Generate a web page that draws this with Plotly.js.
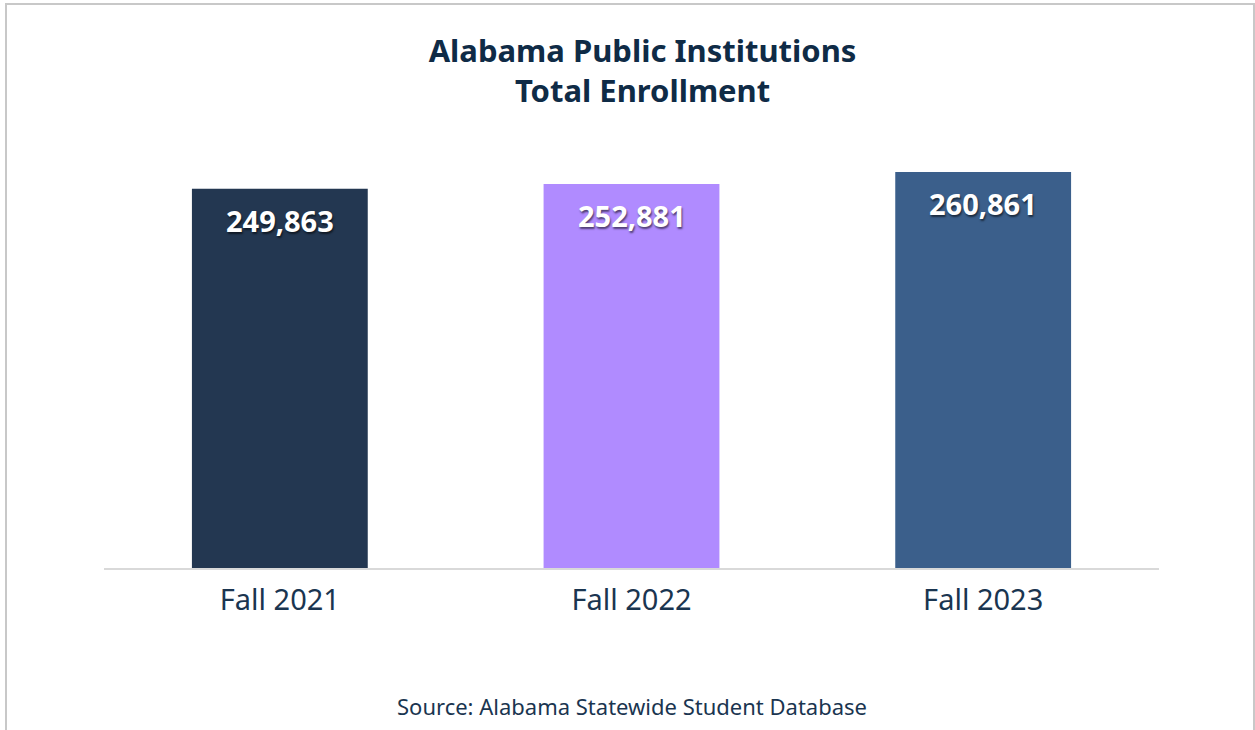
<!DOCTYPE html>
<html>
<head>
<meta charset="utf-8">
<script src="https://cdn.plot.ly/plotly-3.0.1.min.js"></script>
<style>
  html, body { margin: 0; padding: 0; background: #ffffff; }
  #wrap { position: relative; width: 1255px; height: 730px; overflow: hidden; }
  #chart { width: 1255px; height: 730px; }
  #frame { position: absolute; left: 5px; top: 3px; width: 1246px; height: 760px;
           border: 2px solid #c8c8c8; pointer-events: none; }
</style>
</head>
<body>
<div id="wrap">
  <div id="chart"></div>
  <div id="frame"></div>
</div>
<script>
const categories = ["Fall 2021", "Fall 2022", "Fall 2023"];
const enrollment = [249863, 252881, 260861];
const barColors = ["#233751", "#b08bff", "#3b5f8b"];
const titleText = "Alabama Public Institutions<br>Total Enrollment";
const sourceText = "Source: Alabama Statewide Student Database";

const fontFamily = "'Noto Sans', 'Open Sans', sans-serif";

const trace = {
  type: "bar",
  x: categories,
  y: enrollment,
  marker: { color: barColors },
  hoverinfo: "x+y"
};

const labelAnnotations = categories.map((c, i) => ({
  x: c,
  y: enrollment[i],
  xref: "x",
  yref: "y",
  text: enrollment[i].toLocaleString("en-US"),
  showarrow: false,
  yanchor: "top",
  yshift: -10,
  font: { family: fontFamily, size: 29, color: "#ffffff", weight: 700,
          shadow: "1px 2px 2px rgba(0,0,0,0.55)" }
}));

const layout = {
  width: 1255,
  height: 730,
  margin: { l: 104, r: 96, t: 140, b: 162 },
  paper_bgcolor: "#ffffff",
  plot_bgcolor: "#ffffff",
  bargap: 0.5,
  showlegend: false,
  title: {
    text: titleText,
    x: 0.512,
    xref: "container",
    xanchor: "center",
    y: 0.915,
    yref: "container",
    yanchor: "top",
    font: { family: fontFamily, size: 31, color: "#0f2b46", weight: 700 }
  },
  xaxis: {
    type: "category",
    showline: true,
    linecolor: "#d9d9d9",
    linewidth: 2,
    showgrid: false,
    zeroline: false,
    ticks: "",
    ticklabelstandoff: 5,
    tickfont: { family: fontFamily, size: 29, color: "#1a3550" }
  },
  yaxis: {
    range: [0, 281900],
    visible: false,
    showgrid: false,
    zeroline: false
  },
  annotations: labelAnnotations.concat([{
    text: sourceText,
    xref: "paper",
    yref: "paper",
    x: 0.5,
    y: -0.322,
    xanchor: "center",
    yanchor: "middle",
    showarrow: false,
    font: { family: fontFamily, size: 22, color: "#1a3550" }
  }])
};

Plotly.newPlot("chart", [trace], layout, { displayModeBar: false, responsive: false });
</script>
</body>
</html>
